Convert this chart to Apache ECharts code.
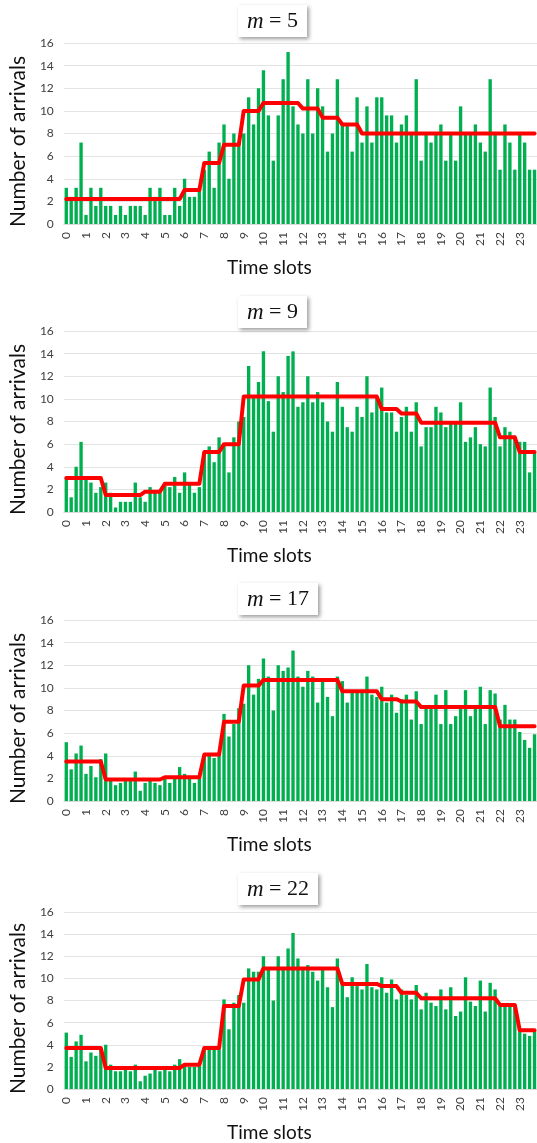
<!DOCTYPE html>
<html>
<head>
<meta charset="utf-8">
<script src="https://cdn.jsdelivr.net/npm/echarts@6/dist/echarts.min.js"></script>
<style>
html,body{margin:0;padding:0;background:#fff;}
#chart{width:537px;height:1143px;}
</style>
</head>
<body>
<div id="chart"></div>
<script>
// Hour tick labels (each hour holds 4 time slots)
const hourLabels = ['0','1','2','3','4','5','6','7','8','9','10','11','12','13','14','15','16','17','18','19','20','21','22','23'];
const yTicks = [0, 2, 4, 6, 8, 10, 12, 14, 16];
const panelTitles = ['5', '9', '17', '22'];

// Bars: arrivals per time slot (96 slots)
const barsM5 = [3.2,2.4,3.2,7.2,0.8,3.2,1.6,3.2,1.6,1.6,0.8,1.6,0.8,1.6,1.6,1.6,0.8,3.2,2.4,3.2,0.8,0.8,3.2,1.6,
  4.0,2.4,2.4,3.2,4.8,6.4,3.2,7.2,8.8,4.0,8.0,7.2,
  8.0,11.2,8.8,12.0,13.6,9.6,5.6,9.6,12.8,15.2,10.4,8.8,8.0,12.8,8.0,12.0,10.4,6.4,8.0,12.8,8.8,8.8,6.4,11.2,
  7.2,10.4,7.2,11.2,11.2,9.6,9.6,7.2,8.8,9.6,8.0,12.8,5.6,8.0,7.2,8.0,
  8.8,5.6,8.0,5.6,10.4,8.0,8.0,8.8,7.2,6.4,12.8,8.0,4.8,8.8,7.2,4.8,8.0,7.2,4.8,4.8];
const barsM9 = [3.0,1.3,4.0,6.2,3.0,2.6,1.7,2.2,2.6,1.7,0.4,0.9,0.9,0.9,2.6,1.3,0.9,2.2,1.7,1.7,2.6,2.2,3.1,1.7,
  3.5,2.6,1.7,2.2,5.3,5.8,4.4,6.6,6.0,3.5,6.6,8.0,
  8.4,12.9,10.2,11.5,14.2,9.8,7.1,12.0,10.6,13.8,14.2,9.3,9.7,12.0,9.7,10.6,9.7,8.0,7.1,11.5,9.3,7.5,7.1,9.3,
  8.4,12.0,8.8,10.2,11.0,8.8,8.8,7.1,8.4,9.3,7.1,9.7,5.8,7.5,7.5,9.3,8.8,7.5,7.9,7.9,
  9.7,6.2,6.6,7.5,6.0,5.8,11.0,8.4,5.8,7.5,7.1,6.6,6.2,6.2,3.5,5.3];
const barsM17 = [5.2,2.8,4.2,4.9,2.4,3.1,2.1,3.7,4.2,1.9,1.4,1.6,1.9,1.9,2.6,0.9,1.6,1.9,1.6,1.4,2.0,1.6,2.0,3.0,
  2.4,2.0,1.6,2.0,4.0,4.0,3.8,4.1,7.7,5.7,6.8,8.2,
  8.6,12.0,9.4,10.8,12.6,11.0,8.0,12.0,11.5,11.8,13.3,11.0,10.1,11.5,11.0,8.7,10.6,9.2,7.5,11.0,10.6,8.7,9.7,9.7,
  9.7,11.0,9.4,9.2,10.1,8.7,9.4,7.8,9.0,9.4,7.2,9.7,6.8,8.3,8.3,9.4,6.8,9.8,6.8,7.5,
  8.3,9.8,7.5,8.3,10.1,6.8,9.8,9.5,7.2,8.5,7.2,7.2,6.1,5.4,4.7,5.9];
const barsM22 = [5.1,2.9,4.3,4.9,2.5,3.3,3.0,3.7,4.0,2.2,1.6,1.6,1.9,1.6,2.2,0.7,1.2,1.4,1.9,1.6,1.9,1.6,2.2,2.7,
  2.2,2.0,2.0,2.2,3.7,3.7,3.7,3.7,8.1,5.4,7.8,8.5,
  7.8,10.9,10.6,10.6,12.0,10.9,8.0,12.0,10.9,12.7,14.1,11.8,10.9,11.2,10.6,9.8,10.9,9.2,7.4,11.8,9.5,8.3,10.1,9.3,
  9.0,11.3,9.2,9.0,10.1,8.7,9.9,8.1,9.0,8.5,8.1,9.4,7.2,8.7,7.8,7.5,9.0,7.2,9.2,6.6,
  7.0,10.1,7.9,7.5,9.8,7.0,9.6,9.0,7.6,7.5,7.5,7.5,5.2,5.0,4.8,5.3];

// Red line: segment level for each hour
const levelsM5  = [2.2,2.2,2.2,2.2,2.2,2.2,3.0,5.4,7.0,10.0,10.7,10.7,10.2,9.4,8.8,8.0,8.0,8.0,8.0,8.0,8.0,8.0,8.0,8.0];
const levelsM9  = [3.0,3.0,1.5,1.5,1.8,2.5,2.5,5.3,6.0,10.2,10.2,10.2,10.2,10.2,10.2,10.2,9.1,8.7,7.9,7.9,7.9,7.9,6.6,5.3];
const levelsM17 = [3.5,3.5,1.9,1.9,1.9,2.1,2.1,4.1,7.0,10.2,10.7,10.7,10.7,10.7,9.7,9.7,9.0,8.8,8.3,8.3,8.3,8.3,6.6,6.6];
const levelsM22 = [3.7,3.7,1.9,1.9,1.9,1.9,2.2,3.7,7.5,9.9,10.9,10.9,10.9,10.9,9.5,9.5,9.3,8.7,8.2,8.2,8.2,8.2,7.6,5.3];

const SLOTS_PER_HOUR = 4;
const categories = [];
hourLabels.forEach(h => { for (let k = 0; k < SLOTS_PER_HOUR; k++) categories.push(h + ':' + k); });
const expand = levels => { const out = []; levels.forEach(v => { for (let k = 0; k < SLOTS_PER_HOUR; k++) out.push(v); }); return out; };

const bars = [barsM5, barsM9, barsM17, barsM22];
const levels = [levelsM5, levelsM9, levelsM17, levelsM22];

const gridTops = [43, 331, 620, 912];
const gridH = 181;
const titleTops = [5, 296, 583, 873];
const font = 'Lato, "Open Sans", sans-serif';

const option = { animation: false, backgroundColor: '#fff', grid: [], xAxis: [], yAxis: [], series: [], title: [] };

for (let p = 0; p < 4; p++) {
  option.grid.push({ left: 62, top: gridTops[p], width: 476, height: gridH, containLabel: false });
  option.title.push({
    text: '{i|m} = ' + panelTitles[p],
    left: 238, top: titleTops[p],
    padding: [5, 9, 4, 9],
    backgroundColor: '#fff',
    shadowColor: 'rgba(0,0,0,0.4)', shadowBlur: 4, shadowOffsetX: 2, shadowOffsetY: 2,
    textStyle: {
      fontFamily: '"Liberation Serif", serif', fontSize: 22, fontWeight: 'normal', color: '#111',
      rich: { i: { fontFamily: '"Liberation Serif", serif', fontStyle: 'italic', fontSize: 23, color: '#111' } }
    }
  });
  option.xAxis.push({
    type: 'category', gridIndex: p, data: categories, boundaryGap: true,
    name: 'Time slots', nameLocation: 'middle', nameGap: 34,
    nameTextStyle: { fontFamily: font, fontSize: 19, color: '#111', padding: [0, 62, 0, 0] },
    axisLine: { show: true, lineStyle: { color: '#d9d9d9', width: 1 } },
    axisTick: { show: false },
    axisLabel: {
      interval: SLOTS_PER_HOUR - 1, rotate: 90, margin: 8,
      fontFamily: font, fontSize: 12, color: '#404040',
      formatter: v => v.split(':')[0]
    },
    splitLine: { show: false }
  });
  option.yAxis.push({
    type: 'value', gridIndex: p, min: yTicks[0], max: yTicks[yTicks.length - 1], interval: 2,
    name: 'Number of arrivals', nameLocation: 'middle', nameGap: 34,
    nameTextStyle: { fontFamily: font, fontSize: 21, color: '#111', padding: [0, 16, 0, 0] },
    axisLine: { show: false }, axisTick: { show: false },
    axisLabel: { fontFamily: font, fontSize: 12, color: '#404040', margin: 10 },
    splitLine: { lineStyle: { color: '#e3e3e3', width: 1 } }
  });
  option.series.push({
    type: 'bar', xAxisIndex: p, yAxisIndex: p, data: bars[p],
    barCategoryGap: '32%', itemStyle: { color: '#00b050' }, silent: true
  });
  option.series.push({
    type: 'line', xAxisIndex: p, yAxisIndex: p, data: expand(levels[p]),
    showSymbol: false, symbol: 'none',
    lineStyle: { color: '#ff0000', width: 4, join: 'round', cap: 'round' }, silent: true, z: 5
  });
}

const chart = echarts.init(document.getElementById('chart'), null, { renderer: 'canvas' });
chart.setOption(option);
</script>
</body>
</html>
